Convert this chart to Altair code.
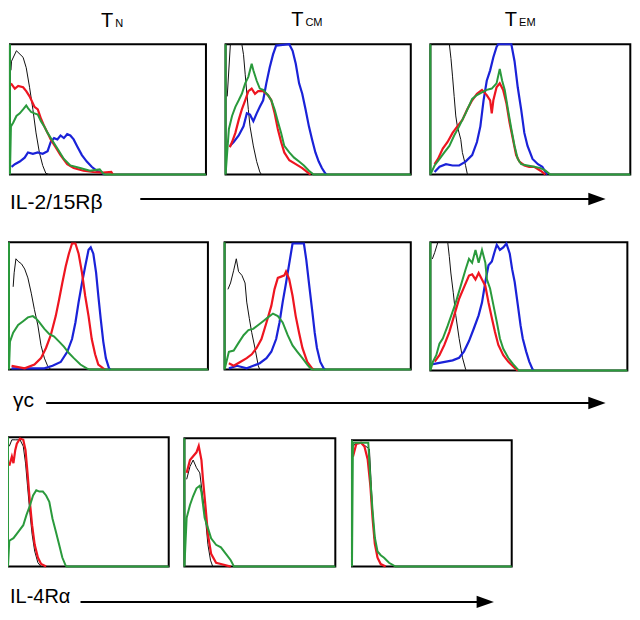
import altair as alt
import pandas as pd

# ---------------- data (x: % of panel width, y: % of panel height) ----------------
column_titles = [("T", "N"), ("T", "CM"), ("T", "EM")]
row_labels = ["IL-2/15R\u03b2", "\u03b3c", "IL-4R\u03b1"]

# Row 1: IL-2/15Rbeta
il2_tn_black = [(0.5,80),(0.8,87),(3.3,95),(6.7,90),(8.3,82),(10,67),(11.7,50),(13.3,32),(15,17),(16.7,7),(18.3,1),(20,0)]
il2_tn_red = [(0.5,70),(2.5,66),(4.2,68),(6.7,67),(8.3,64),(10,60),(12.5,52),(14.2,50),(15.8,43),(17.5,37),(19.2,32),(20.8,27),(23.3,21),(25.8,15),(29.2,8),(32.5,5),(37.5,3),(42.5,2),(47.5,1.5),(51.7,2),(52.5,0)]
il2_tn_green = [(0,100),(0,0),(0.5,37),(1.7,40),(3.3,45),(5,47),(6.7,50),(8.3,53),(9.2,51),(10.8,48),(12.5,47),(14.2,46),(15.8,41),(17.5,37),(19.2,32),(21.7,26),(24.2,20),(27.5,12),(30.8,7),(35.8,5),(40.8,3),(45.8,4),(47.5,1),(48.5,0),(100,0)]
il2_tn_blue = [(0.8,6),(2.5,8),(5,10),(7.5,13),(9.2,17),(11.7,16),(14.2,17),(16.7,16),(19.2,18),(20.8,25),(22.5,28),(24.2,27),(25.8,30),(27.5,28),(29.2,31),(30.8,30),(32.5,27),(34.2,22),(36.7,15),(39.2,10),(41.7,6),(44.2,3),(46.7,1.5),(48.3,0)]

il2_tcm_black = [(0.9,60),(2.6,100),(8.8,100),(9.7,92),(10.6,77),(11.5,62),(12.3,50),(13.2,37),(15,22),(16.8,10),(18.5,2),(19.4,0)]
il2_tcm_red = [(2.3,21),(3.5,25),(5.3,32),(7.1,42),(8.8,50),(10.6,57),(12.3,64),(14.1,66),(15.9,62),(17.6,64),(20.3,64),(22.9,61),(24.7,57),(26.5,47),(28.2,35),(30,25),(31.7,17),(34.4,11),(37.9,8),(41.4,5),(45,1),(45.9,0)]
il2_tcm_green = [(0,100),(0,0),(1.8,35),(3.5,45),(5.3,52),(7.1,57),(8.8,62),(10.6,70),(12.3,75),(14.1,85),(15,80),(16.8,72),(18.5,66),(20.3,65),(22.9,61),(24.7,57),(26.5,50),(28.2,41),(30,32),(31.7,22),(34.4,17),(37,13),(39.7,10),(42.3,7),(45,3),(46.7,1),(47.5,0),(100,0)]
il2_tcm_blue = [(2.3,22),(4.4,25),(7.1,30),(9.7,37),(11.5,47),(13.2,46),(15,41),(16.8,47),(18.5,52),(20.3,57),(22,70),(23.8,82),(25.6,92),(27.3,99),(34.4,100),(36.2,95),(37.9,85),(39.7,70),(41.4,62),(43.2,50),(45,37),(46.7,27),(48.5,17),(50.3,10),(52,5),(53.8,1),(54.5,0)]

il2_tem_black = [(1.3,100),(9.5,100),(10.3,89),(11.1,75),(11.9,60),(12.7,45),(13.5,37),(15.2,27),(16,17),(17.6,7),(18.4,1),(19,0)]
il2_tem_red = [(2.1,8),(3.8,12),(6.2,20),(8.6,25),(11.1,32),(13.5,37),(16,42),(18.4,50),(20.9,57),(23.3,62),(25.8,65),(28.2,61),(29.9,57),(30.7,47),(31.5,57),(33.1,67),(34.7,70),(36.4,65),(38,55),(39.6,40),(41.3,27),(42.9,15),(44.5,10),(47,7),(49.4,6),(51.9,6),(55.1,3),(56.8,1),(57.5,0)]
il2_tem_green = [(0,100),(0,0),(2.1,7),(4.6,12),(7,17),(9.5,22),(11.9,30),(14.4,37),(17.6,47),(20.9,58),(23.3,61),(25.8,63),(28.2,65),(30.7,66),(33.1,70),(34.7,81),(35.9,72),(37.2,65),(38.8,50),(40.5,35),(42.1,22),(43.7,12),(45.4,8),(48.6,7),(51.9,6),(55.1,5),(57.6,3),(59.2,1),(60,0),(100,0)]
il2_tem_blue = [(2.1,2),(4.6,6),(7.8,8),(11.1,7),(14.4,7),(17.6,10),(20.9,15),(23.3,25),(25,37),(26.6,57),(28.2,72),(29.9,80),(31.5,90),(33.1,98),(33.9,100),(40.5,100),(42.1,87),(43.7,67),(45.4,50),(47,32),(48.6,22),(51.1,12),(53.8,8),(56,6),(57.6,2),(58.4,0)]

# Row 2: gamma c
gc_tn_black = [(2.1,65),(2.6,76),(3.5,87),(4.6,85),(6.3,83),(7.9,79),(9.5,72),(11.2,60),(12.8,47),(14.5,35),(16.1,19),(17.8,9),(19.4,3),(21,0)]
gc_tn_red = [(1.3,3),(7.9,1),(12.8,4),(16.1,9),(18.6,17),(21,27),(23.5,42),(25.2,55),(26.8,68),(28.5,81),(30.1,91),(31.7,99),(33.4,99),(35,91),(36.7,76),(38.3,58),(40,42),(41.6,24),(43.3,12),(44.9,4),(47.4,1),(48.5,0)]
gc_tn_green = [(0,100),(0,0),(0.5,22),(2.1,29),(4.6,35),(7.1,38),(9.5,41),(12,42),(13.7,40),(15.3,37),(17.8,32),(20.2,28),(22.7,26),(25.2,22),(27.6,18),(30.1,13),(32.6,9),(35.9,4),(39.1,1),(40.8,0),(100,0)]
gc_tn_blue = [(1.3,1),(17.8,1),(21.9,3),(26,6),(29.3,14),(31.7,24),(33.4,37),(35,53),(36.7,68),(38.3,81),(40,94),(41.1,96),(42.4,91),(43.8,76),(44.9,58),(46.1,40),(47.4,22),(48.7,9),(50.3,1),(51,0)]

gc_tcm_black = [(1.8,63),(3.2,68),(4.9,78),(6.3,87),(7.5,77),(9.3,74),(11,68),(11.9,53),(13.3,40),(14.6,29),(16.3,17),(18.1,3),(18.9,0)]
gc_tcm_red = [(2.3,5),(4.9,3),(8.4,6),(11.9,9),(14.6,12),(17.2,17),(19.8,24),(22.5,37),(25.1,50),(26.8,63),(28.6,72),(30.4,73),(32.1,74),(33,77),(34.7,71),(36.5,58),(38.2,42),(40,29),(41.8,17),(44.4,6),(47,1),(48,0)]
gc_tcm_green = [(0,100),(0,0),(2.3,14),(4.9,15),(7.5,21),(10.2,27),(12.8,31),(15.4,32),(18.1,35),(20.7,38),(23.3,41),(26,44),(28.6,42),(31.2,37),(33.9,27),(36.5,19),(39.1,14),(41.8,9),(44.4,4),(46.1,1),(47,0),(100,0)]
gc_tcm_blue = [(2.3,1),(6.7,3),(11.9,1),(15.4,3),(18.9,5),(22.5,9),(25.1,14),(27.7,24),(29.5,37),(31.2,53),(33,68),(34.7,83),(36.5,99),(42.6,99),(43.9,86),(45.3,68),(47,47),(48.4,29),(49.6,17),(51.4,6),(53.2,1),(54,0)]

gc_tem_black = [(1,87),(2.2,92),(3.8,100),(8.8,100),(9.6,89),(10.4,76),(11.6,61),(12.9,43),(14.6,25),(16.3,10),(17.9,1),(18.5,0)]
gc_tem_red = [(2.2,7),(4.6,12),(7.1,20),(9.6,30),(12.1,43),(14.6,56),(17.1,65),(19.6,74),(21.2,75),(22.9,71),(24.5,76),(26.2,71),(27.9,66),(29.5,53),(31.2,41),(32.8,30),(34.5,20),(37,12),(39.5,7),(42.8,2),(44.4,0)]
gc_tem_green = [(0,100),(0,0),(1.3,7),(3,12),(4.6,21),(6.3,25),(8.8,35),(11.3,46),(12.9,53),(15.4,66),(17.9,79),(19.6,87),(21.2,84),(22.9,94),(24.5,84),(26.2,94),(27.9,84),(28.7,71),(30.3,64),(32,51),(33.7,38),(35.3,25),(37,17),(39.5,10),(42,5),(44.4,1),(45,0),(100,0)]
gc_tem_blue = [(1.3,5),(8,7),(11.3,8),(14.6,10),(17.1,15),(19.6,23),(22.1,33),(24.5,43),(26.2,53),(27.9,69),(29.5,82),(31.2,85),(32.5,92),(33.7,98),(35.3,94),(37,96),(38.6,99),(40.3,91),(41.5,79),(42.8,69),(44.4,51),(45.8,35),(46.9,25),(48.6,15),(50.2,7),(51.9,1),(52.5,0)]

# Row 3: IL-4Ralpha
il4_tn_black = [(0.8,93),(2.4,98),(4.5,98),(7.5,98),(9.5,93),(10.9,80),(12.1,63),(13.6,42),(15,25),(16.6,12),(18.6,3),(20.6,0)]
il4_tn_red = [(0.8,78),(2.4,85),(3.4,80),(4.5,90),(5.5,95),(7.5,99),(9.5,98),(10.9,90),(12.1,73),(13.6,50),(15,32),(16.6,17),(18.6,7),(20.6,2),(23.7,0)]
il4_tn_green = [(0,100),(0,0),(0.8,20),(3.4,22),(6.5,27),(9.5,32),(11.5,40),(13.6,47),(15.6,55),(17.6,59),(19.6,58),(21.7,58),(23.7,55),(25.7,50),(27.7,37),(29.8,27),(31.8,17),(33.8,7),(35.8,1),(36.5,0),(100,0)]

il4_tcm_black = [(1.5,68),(3.7,78),(5.8,83),(8,77),(10.2,73),(12.3,53),(13.9,38),(15.6,17),(17.3,5),(18.8,0)]
il4_tcm_red = [(1.5,73),(3.7,83),(5.8,86),(8,89),(9.5,94),(11.3,83),(12.3,68),(13.9,48),(15.6,25),(17.7,10),(21,3),(24.2,2),(30.7,0)]
il4_tcm_green = [(0,100),(0,0),(1.5,38),(3.7,48),(5.8,55),(8,61),(10.2,63),(11.3,58),(13.4,38),(15.6,30),(17.7,22),(21,17),(24.2,15),(27.5,10),(30.7,5),(32.9,0),(100,0)]

il4_tem_black = [(0.6,95),(2.7,98),(5.7,98),(8.8,95),(10.9,93),(11.9,69),(12.9,44),(13.9,23),(16,7),(18,2),(20.1,0)]
il4_tem_red = [(0.6,87),(2.7,97),(5.7,98),(7.8,95),(9.8,85),(11.5,64),(12.9,38),(14.3,18),(16,7),(18,2),(21.1,0)]
il4_tem_green = [(0,100),(0,0),(0.6,98),(7.8,98),(10.2,98),(11.5,69),(12.9,44),(14.3,23),(16,12),(18,9),(20.1,7),(23.2,3),(27.3,0),(100,0)]

# ---------------- layout & style ----------------
S = 0.98
def X(xr):
    return (xr - 3) * S
def Y(yr):
    return (yr - 6) * S

COLORS = {"black": "#111111", "red": "#ee1520", "green": "#2a9a3c", "blue": "#1a22d8"}
WIDTHS = {"black": 1.0, "red": 2.2, "green": 2.0, "blue": 2.2}
FONT = "Liberation Sans"

panels = [
    ((5, 205, 43, 176), [("black", il2_tn_black), ("blue", il2_tn_blue), ("red", il2_tn_red), ("green", il2_tn_green)]),
    ((225, 414, 43, 176), [("black", il2_tcm_black), ("blue", il2_tcm_blue), ("red", il2_tcm_red), ("green", il2_tcm_green)]),
    ((434, 638, 43, 176), [("black", il2_tem_black), ("blue", il2_tem_blue), ("red", il2_tem_red), ("green", il2_tem_green)]),
    ((4, 207, 245, 375), [("black", gc_tn_black), ("blue", gc_tn_blue), ("red", gc_tn_red), ("green", gc_tn_green)]),
    ((224, 414, 245, 375), [("black", gc_tcm_black), ("blue", gc_tcm_blue), ("red", gc_tcm_red), ("green", gc_tcm_green)]),
    ((434, 635, 245, 376), [("black", gc_tem_black), ("blue", gc_tem_blue), ("red", gc_tem_red), ("green", gc_tem_green)]),
    ((3, 167, 444, 576), [("black", il4_tn_black), ("red", il4_tn_red), ("green", il4_tn_green)]),
    ((183, 337, 445, 576), [("black", il4_tcm_black), ("red", il4_tcm_red), ("green", il4_tcm_green)]),
    ((354, 517, 447, 576), [("black", il4_tem_black), ("red", il4_tem_red), ("green", il4_tem_green)]),
]


def make_panel(box, curves):
    x0, x1, y0, y1 = box
    xs = alt.Scale(domain=[0, 100], range=[X(x0), X(x1)])
    ys = alt.Scale(domain=[0, 100], range=[Y(y1), Y(y0)])
    frame_df = pd.DataFrame({"a": [0], "b": [100]})
    frame = alt.Chart(frame_df).mark_rect(fill=None, stroke="black", strokeWidth=2).encode(
        x=alt.X("a:Q", scale=xs, axis=None), x2="b:Q",
        y=alt.Y("a:Q", scale=ys, axis=None), y2="b:Q",
    )
    layers = [frame]
    for name, pts in curves:
        df = pd.DataFrame(pts, columns=["x", "y"])
        df["i"] = range(len(df))
        layers.append(
            alt.Chart(df).mark_line(color=COLORS[name], strokeWidth=WIDTHS[name], clip=True).encode(
                x=alt.X("x:Q", scale=xs, axis=None),
                y=alt.Y("y:Q", scale=ys, axis=None),
                order="i:Q",
            )
        )
    return alt.layer(*layers)


one = pd.DataFrame({"k": [0]})
annots = []

# column titles (main letter + subscript)
title_pos = [(98, 112.5, 25, 25), (292, 306.5, 24, 24), (510, 524.5, 24, 24)]
for (main, sub), (mx, sx, mb, sb) in zip(column_titles, title_pos):
    annots.append(alt.Chart(one).mark_text(text=main, font=FONT, fontSize=20, align="left", baseline="alphabetic").encode(
        x=alt.value(X(mx)), y=alt.value(Y(mb))))
    annots.append(alt.Chart(one).mark_text(text=sub, font=FONT, fontSize=11, align="left", baseline="alphabetic").encode(
        x=alt.value(X(sx)), y=alt.value(Y(sb))))

# row labels and arrows: (label x, baseline, font size, line x start, line x end, line y, head center x)
row_pos = [(5, 211.5, 21, 138, 600, 201, 604), (8, 413, 21, 42, 600, 409, 604), (5, 613, 20, 77, 488, 612, 490)]
arrow_shape = "M-1,-0.72 L1,0 L-1,0.72 Z"
for label, (lx, lb, fs, ax0, ax1, ay, hx) in zip(row_labels, row_pos):
    annots.append(alt.Chart(one).mark_text(text=label, font=FONT, fontSize=fs, align="left", baseline="alphabetic").encode(
        x=alt.value(X(lx)), y=alt.value(Y(lb))))
    annots.append(alt.Chart(one).mark_rule(color="black", strokeWidth=2).encode(
        x=alt.value(X(ax0)), x2=alt.value(X(ax1)), y=alt.value(Y(ay))))
    annots.append(alt.Chart(one).mark_point(shape=arrow_shape, filled=True, color="black", opacity=1, size=300, strokeWidth=0).encode(
        x=alt.value(X(hx)), y=alt.value(Y(ay))))

chart = alt.layer(*[make_panel(b, c) for b, c in panels], *annots).resolve_scale(
    x="independent", y="independent"
).properties(
    width=624, height=604, autosize="none", padding=0, background="white"
).configure_view(stroke=None)

chart.save("out.html", embed_options={"renderer": "svg", "actions": False})
